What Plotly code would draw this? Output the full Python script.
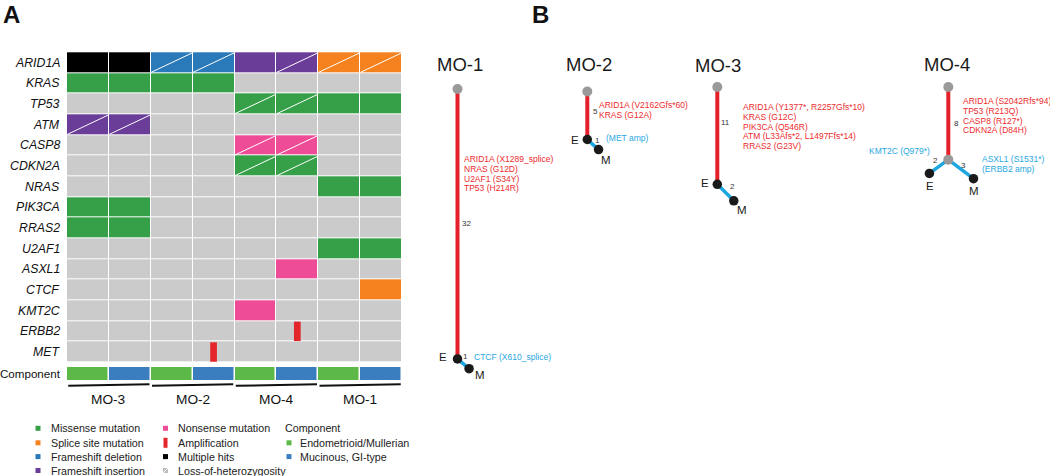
import math
import plotly.graph_objects as go

W, H = 1050, 476
FONT = "Liberation Sans, Arial, sans-serif"

# ---------------- Panel A data ----------------
genes = ["ARID1A", "KRAS", "TP53", "ATM", "CASP8", "CDKN2A", "NRAS", "PIK3CA",
         "RRAS2", "U2AF1", "ASXL1", "CTCF", "KMT2C", "ERBB2", "MET"]
patients = ["MO-3", "MO-2", "MO-4", "MO-1"]
components = ["E", "M", "E", "M", "E", "M", "E", "M"]

alterations = {
    "ARID1A": ["multi", "multi", "fsdel", "fsdel", "fsins", "fsins", "splice", "splice"],
    "KRAS":   ["missense", "missense", "missense", "missense", "", "", "", ""],
    "TP53":   ["", "", "", "", "missense", "missense", "missense", "missense"],
    "ATM":    ["fsins", "fsins", "", "", "", "", "", ""],
    "CASP8":  ["", "", "", "", "nonsense", "nonsense", "", ""],
    "CDKN2A": ["", "", "", "", "missense", "missense", "", ""],
    "NRAS":   ["", "", "", "", "", "", "missense", "missense"],
    "PIK3CA": ["missense", "missense", "", "", "", "", "", ""],
    "RRAS2":  ["missense", "missense", "", "", "", "", "", ""],
    "U2AF1":  ["", "", "", "", "", "", "missense", "missense"],
    "ASXL1":  ["", "", "", "", "", "nonsense", "", ""],
    "CTCF":   ["", "", "", "", "", "", "", "splice"],
    "KMT2C":  ["", "", "", "", "nonsense", "", "", ""],
    "ERBB2":  ["", "", "", "", "", "amp", "", ""],
    "MET":    ["", "", "", "amp", "", "", "", ""],
}
loh = {
    "ARID1A": [0, 0, 1, 1, 0, 1, 1, 1],
    "TP53":   [0, 0, 0, 0, 1, 1, 0, 0],
    "ATM":    [1, 1, 0, 0, 0, 0, 0, 0],
    "CASP8":  [0, 0, 0, 0, 1, 1, 0, 0],
    "CDKN2A": [0, 0, 0, 0, 1, 1, 0, 0],
}

alt_labels = {
    "missense": "Missense mutation", "splice": "Splice site mutation",
    "fsdel": "Frameshift deletion", "fsins": "Frameshift insertion",
    "nonsense": "Nonsense mutation", "amp": "Amplification",
    "multi": "Multiple hits", "loh": "Loss-of-heterozygosity",
}
comp_labels = {"E": "Endometrioid/Mullerian", "M": "Mucinous, GI-type"}

# ---------------- Panel B data ----------------
trees = ["MO-1", "MO-2", "MO-3", "MO-4"]
trunk_len = [32, 5, 11, 8]
trunk_muts = [
    ["ARID1A (X1289_splice)", "NRAS (G12D)", "U2AF1 (S34Y)", "TP53 (H214R)"],
    ["ARID1A (V2162Gfs*60)", "KRAS (G12A)"],
    ["ARID1A (Y1377*, R2257Gfs*10)", "KRAS (G12C)", "PIK3CA (Q546R)",
     "ATM (L33Afs*2, L1497Ffs*14)", "RRAS2 (G23V)"],
    ["ARID1A (S2042Rfs*94)", "TP53 (R213Q)", "CASP8 (R127*)", "CDKN2A (D84H)"],
]
e_len = [0, 0, 0, 2]
m_len = [1, 1, 2, 3]
e_muts = [[], [], [], ["KMT2C (Q979*)"]]
m_muts = [["CTCF (X610_splice)"], ["(MET amp)"], [], ["ASXL1 (S1531*)", "(ERBB2 amp)"]]

# ---------------- styles ----------------
C = {"": "#CBCBCB", "missense": "#35A048", "splice": "#F5821F", "fsdel": "#2A79B8",
     "fsins": "#6A3D98", "nonsense": "#EE4C97", "multi": "#000000", "amp": "#CBCBCB"}
AMP_RED = "#E3262A"
COMP_C = {"E": "#5CB947", "M": "#3A7EC0"}
RED_LINE = "#E5202A"
BLUE_LINE = "#1EA6E0"
RED_TXT = "#EC2B2E"
BLUE_TXT = "#27A8E0"
GRAY_NODE = "#9A9A9A"

PX0, PX1 = 67.0, 402.0
ROW_TOP, ROW_H = 52.3, 20.67


def vy(px):
    return (px - ROW_TOP) / ROW_H


fig = go.Figure()

# heatmap of alterations
cats = ["", "missense", "splice", "fsdel", "fsins", "nonsense", "multi"]
n = len(cats)
cscale = []
for k, cat in enumerate(cats):
    cscale.append([k / n, C[cat]])
    cscale.append([(k + 1) / n, C[cat]])
z = [[cats.index(a) if a in cats else 0 for a in alterations[g]] for g in genes]
fig.add_trace(go.Heatmap(z=z, x=list(range(9)), y=list(range(len(genes) + 1)),
                         colorscale=cscale, zmin=-0.5, zmax=n - 0.5, showscale=False,
                         xgap=1, ygap=1, hoverinfo="skip", xaxis="x", yaxis="y"))

# component row
zc = [[0 if c == "E" else 1 for c in components]]
fig.add_trace(go.Heatmap(z=zc, x=list(range(9)), y=[vy(367.0), vy(380.3)],
                         colorscale=[[0, COMP_C["E"]], [0.5, COMP_C["E"]], [0.5, COMP_C["M"]], [1, COMP_C["M"]]],
                         zmin=-0.5, zmax=1.5, showscale=False, xgap=1.5, ygap=0,
                         hoverinfo="skip", xaxis="x", yaxis="y"))

# LOH diagonals
lx, ly = [], []
for g, flags in loh.items():
    r = genes.index(g)
    for c, f in enumerate(flags):
        if f:
            lx += [c + 0.01, c + 0.99, None]
            ly += [r + 0.97, r + 0.03, None]
fig.add_trace(go.Scatter(x=lx, y=ly, mode="lines", line=dict(color="white", width=1),
                         hoverinfo="skip", showlegend=False, xaxis="x", yaxis="y"))

shapes = []
annotations = []

# amplification bars
for g in genes:
    r = genes.index(g)
    for c, a in enumerate(alterations[g]):
        if a == "amp":
            shapes.append(dict(type="rect", xref="x", yref="y", x0=c + 0.42, x1=c + 0.58,
                               y0=r + 0.03, y1=r + 0.97, fillcolor=AMP_RED, line=dict(width=0)))

# gene labels
for r, g in enumerate(genes):
    annotations.append(dict(xref="x", yref="y", x=0, y=r + 0.5, text="<i>%s</i>" % g,
                            showarrow=False, xanchor="right", yanchor="middle", xshift=-5,
                            font=dict(family=FONT, size=12.3, color="#111")))
annotations.append(dict(xref="x", yref="y", x=0, y=vy(373.7), text="Component",
                        showarrow=False, xanchor="right", yanchor="middle", xshift=-4,
                        font=dict(family=FONT, size=11.6, color="#111")))

# patient brackets and labels
for p, name in enumerate(patients):
    shapes.append(dict(type="line", xref="x", yref="y", x0=2 * p + 0.03, x1=2 * p + 1.97,
                       y0=vy(385.8), y1=vy(384.3), line=dict(color="#111", width=2)))
    annotations.append(dict(xref="x", yref="y", x=2 * p + 1, y=vy(399.5), text=name,
                            showarrow=False, xanchor="center", yanchor="middle",
                            font=dict(family=FONT, size=13.7, color="#111")))

# legend
def txt(x, y, s, size=10.7, color="#222", anchor="left", bold=False):
    if bold:
        s = "<b>%s</b>" % s
    annotations.append(dict(xref="x2", yref="y2", x=x, y=y, text=s, showarrow=False,
                            xanchor=anchor, yanchor="middle",
                            font=dict(family=FONT, size=size, color=color)))


def sq(cx, cy, color, w=5, h=5):
    shapes.append(dict(type="rect", xref="x2", yref="y2", x0=cx - w / 2, x1=cx + w / 2,
                       y0=cy - h / 2, y1=cy + h / 2, fillcolor=color, line=dict(width=0)))


leg_rows = [428.3, 442.8, 456.6, 470.5]
col1 = ["missense", "splice", "fsdel", "fsins"]
col2 = ["nonsense", "amp", "multi", "loh"]
for i, k in enumerate(col1):
    sq(38, leg_rows[i], C[k])
    txt(48.5, leg_rows[i], alt_labels[k])
for i, k in enumerate(col2):
    if k == "amp":
        sq(165.5, leg_rows[i], AMP_RED, w=4, h=10)
    elif k == "loh":
        sq(165.5, leg_rows[i], "#BDBDBD")
        shapes.append(dict(type="line", xref="x2", yref="y2", x0=163, x1=168,
                           y0=leg_rows[i] + 2.5, y1=leg_rows[i] - 2.5,
                           line=dict(color="white", width=1)))
    else:
        sq(165.5, leg_rows[i], C[k])
    txt(176, leg_rows[i], alt_labels[k])
txt(283, leg_rows[0] - 0.5, "Component")
for i, k in enumerate(["E", "M"]):
    sq(289, leg_rows[i + 1], COMP_C[k])
    txt(298, leg_rows[i + 1], comp_labels[k])

# panel letters
txt(11.5, 14, "A", size=24, color="#111", anchor="center", bold=True)
txt(540, 14, "B", size=24, color="#111", anchor="center", bold=True)

# ---------------- Panel B trees ----------------
root_xy = [(457.5, 89.0), (587.3, 91.5), (717.3, 87.0), (948.3, 87.0)]
title_xy = [(459.5, 64.5), (588.7, 64.5), (718.3, 65.5), (946.7, 64.5)]
m_angle = [40, 42, 45, 37]
e_angle = [None, None, None, 36]
count_frac = [0.5, 0.42, 0.36, 0.5]
trunk_txt_xy = [(462.3, 158.7), (597.3, 105.0), (740.7, 106.7), (961.0, 100.7)]
m_txt_xy = [(471.7, 357.3), (604.3, 138.3), None, (980.0, 159.3)]
e_txt_xy = [None, None, None, (932.3, 151.0)]
m_cnt_off = [(2.7, -6.9), (4.4, -4.5), (6.8, -6.2), (2.5, -4.0)]
e_cnt_off = [None, None, None, (-3.5, -6.0)]
e_lab_off = [(-14.5, -1.5), (-12.5, 0.5), (-12.5, -1.0), (1.0, 12.5)]
m_lab_off = [(10.5, 6.0), (7.7, 10.0), (8.3, 9.0), (0.5, 12.5)]
LINE_GAP = 9.9


def plen(nmut):
    return 8.22 * nmut + 6.9


for t, name in enumerate(trees):
    rx, ry = root_xy[t]
    ex_, ey_ = rx, ry + plen(trunk_len[t])  # end of trunk
    fig.add_trace(go.Scatter(x=[rx, ex_], y=[ry, ey_], mode="lines",
                             line=dict(color=RED_LINE, width=4), hoverinfo="skip",
                             showlegend=False, xaxis="x2", yaxis="y2"))
    a = math.radians(m_angle[t])
    L = plen(m_len[t])
    mx, my = ex_ + L * math.cos(a), ey_ + L * math.sin(a)
    fig.add_trace(go.Scatter(x=[ex_, mx], y=[ey_, my], mode="lines",
                             line=dict(color=BLUE_LINE, width=3.5), hoverinfo="skip",
                             showlegend=False, xaxis="x2", yaxis="y2"))
    if e_len[t] > 0:
        b = math.radians(e_angle[t])
        Le = plen(e_len[t])
        enx, eny = ex_ - Le * math.cos(b), ey_ + Le * math.sin(b)
        fig.add_trace(go.Scatter(x=[ex_, enx], y=[ey_, eny], mode="lines",
                                 line=dict(color=BLUE_LINE, width=3.5), hoverinfo="skip",
                                 showlegend=False, xaxis="x2", yaxis="y2"))
        gray_x, gray_y = [rx, ex_], [ry, ey_]
        black_x, black_y = [enx, mx], [eny, my]
        E_node = (enx, eny)
        ox, oy = e_cnt_off[t]
        txt((ex_ + enx) / 2 + ox, (ey_ + eny) / 2 + oy, str(e_len[t]), size=8, color="#333", anchor="center")
    else:
        gray_x, gray_y = [rx], [ry]
        black_x, black_y = [ex_, mx], [ey_, my]
        E_node = (ex_, ey_)
    fig.add_trace(go.Scatter(x=gray_x, y=gray_y, mode="markers",
                             marker=dict(color=GRAY_NODE, size=10, line=dict(width=0)),
                             hoverinfo="skip", showlegend=False, xaxis="x2", yaxis="y2"))
    fig.add_trace(go.Scatter(x=black_x, y=black_y, mode="markers",
                             marker=dict(color="#1A1A1A", size=9.5, line=dict(width=0)),
                             hoverinfo="skip", showlegend=False, xaxis="x2", yaxis="y2"))
    txt(title_xy[t][0], title_xy[t][1], name, size=18.5, color="#1A1A1A", anchor="center")
    txt(rx + 8.5, ry + count_frac[t] * (ey_ - ry), str(trunk_len[t]), size=8, color="#333", anchor="center")
    ox, oy = m_cnt_off[t]
    txt((ex_ + mx) / 2 + ox, (ey_ + my) / 2 + oy, str(m_len[t]), size=8, color="#333", anchor="center")
    txt(E_node[0] + e_lab_off[t][0], E_node[1] + e_lab_off[t][1], "E", size=11.5, color="#1A1A1A", anchor="center")
    txt(mx + m_lab_off[t][0], my + m_lab_off[t][1], "M", size=11.5, color="#1A1A1A", anchor="center")
    tx, ty = trunk_txt_xy[t]
    for i, s in enumerate(trunk_muts[t]):
        txt(tx, ty + i * LINE_GAP, s, size=8.5, color=RED_TXT)
    if m_txt_xy[t] is not None:
        tx, ty = m_txt_xy[t]
        for i, s in enumerate(m_muts[t]):
            txt(tx, ty + i * LINE_GAP, s, size=8.5, color=BLUE_TXT)
    if e_txt_xy[t] is not None:
        tx, ty = e_txt_xy[t]
        for i, s in enumerate(e_muts[t]):
            txt(tx, ty + i * LINE_GAP, s, size=8.5, color=BLUE_TXT, anchor="right")

ax_hidden = dict(visible=False, showgrid=False, zeroline=False, fixedrange=True)
fig.update_layout(
    width=W, height=H, margin=dict(l=0, r=0, t=0, b=0, pad=0),
    paper_bgcolor="white", plot_bgcolor="rgba(0,0,0,0)", showlegend=False,
    xaxis=dict(domain=[PX0 / W, PX1 / W], range=[0, 8], anchor="y", **ax_hidden),
    yaxis=dict(domain=[0, 1], range=[vy(H), vy(0)], anchor="x", **ax_hidden),
    xaxis2=dict(domain=[0, 1], range=[0, W], anchor="y2", **ax_hidden),
    yaxis2=dict(domain=[0, 1], range=[H, 0], anchor="x2", **ax_hidden),
    shapes=shapes, annotations=annotations,
)
fig.write_html("out.html", config={"displayModeBar": False},
               post_script="document.body.style.margin='0';document.body.style.padding='0';"
                           "document.documentElement.style.overflow='hidden';")
